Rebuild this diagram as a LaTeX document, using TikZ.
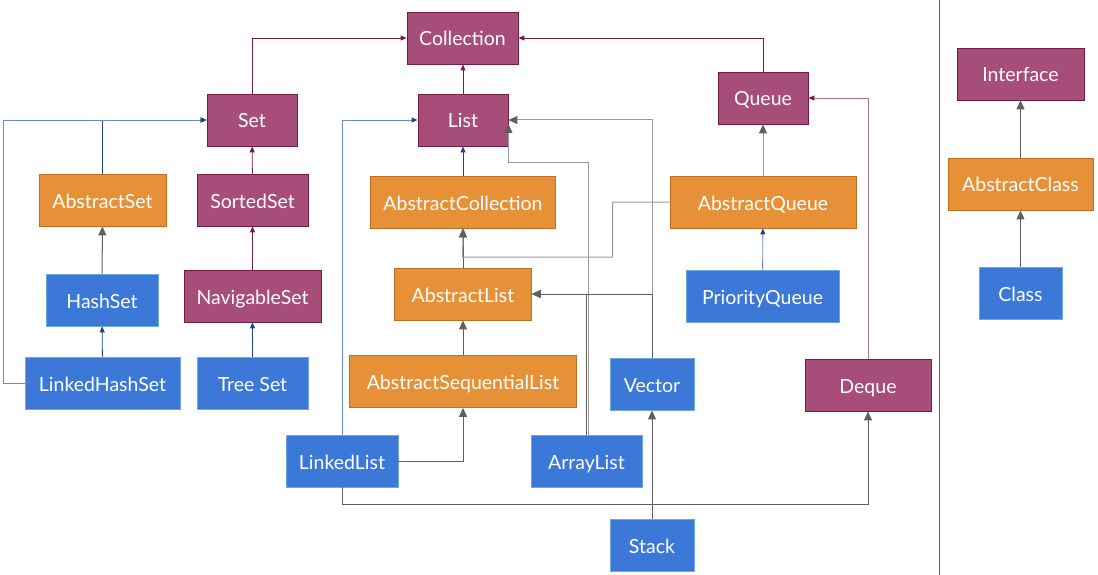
\documentclass[tikz,border=0pt]{standalone}
\usepackage{fontspec}
\setmainfont{Lato}
\usetikzlibrary{arrows.meta}
\definecolor{ifill}{HTML}{A64D79}
\definecolor{iline}{HTML}{741B47}
\definecolor{afill}{HTML}{E69138}
\definecolor{aline}{HTML}{C0701C}
\definecolor{cfill}{HTML}{3C78D8}
\definecolor{cline}{HTML}{6FA8DC}
\definecolor{gline}{HTML}{5F5F5F}
\definecolor{lgline}{HTML}{9A9A9A}
\definecolor{bline}{HTML}{1C4587}
\definecolor{lbline}{HTML}{6A8CC2}
\definecolor{lpline}{HTML}{B5728F}
\begin{document}
\begin{tikzpicture}[x=1pt,y=-1pt,
  box/.style={draw, line width=0.8pt, text=white, font=\fontsize{19.5}{22}\selectfont, inner sep=0pt, minimum height=52pt, text height=18pt, text depth=2pt},
  iface/.style={box, fill=ifill, draw=iline},
  aclass/.style={box, fill=afill, draw=aline},
  cclass/.style={box, fill=cfill, draw=cline},
  garrow/.style={draw=gline, line width=1pt, -{Triangle[length=9pt,width=8pt,color=gline]}},
  lgarrow/.style={garrow, draw=lgline},
  parrow/.style={draw=iline, line width=0.9pt, -{Triangle[length=6pt,width=5pt,color=iline]}},
  lparrow/.style={parrow, draw=lpline},
  barrow/.style={draw=bline, line width=0.9pt, -{Triangle[length=6pt,width=5pt,color=bline]}},
  lbarrow/.style={barrow, draw=lbline}
]
\useasboundingbox (0,0) rectangle (1098,575);
% interfaces
\node[iface, minimum width=111pt] (collection) at (462.5,38) {Collection};
\node[iface, minimum width=90pt] (set) at (252,120) {Set};
\node[iface, minimum width=90pt] (list) at (463,120) {List};
\node[iface, minimum width=90pt] (queue) at (763,98) {Queue};
\node[iface, minimum width=111pt] (sortedset) at (252.5,200) {SortedSet};
\node[iface, minimum width=137pt] (navset) at (252.5,296) {NavigableSet};
\node[iface, minimum width=126pt] (deque) at (868,385) {Deque};
\node[iface, minimum width=127pt] (interface) at (1020.5,74) {Interface};
% abstract classes
\node[aclass, minimum width=127pt] (abstractset) at (102.5,200) {AbstractSet};
\node[aclass, minimum width=185pt] (abscoll) at (463,202) {AbstractCollection};
\node[aclass, minimum width=137pt] (abslist) at (463,294) {AbstractList};
\node[aclass, minimum width=227pt] (asl) at (463,381.5) {AbstractSequentialList};
\node[aclass, minimum width=186pt] (absqueue) at (763,202) {AbstractQueue};
\node[aclass, minimum width=145pt] (absclass) at (1020.5,184) {AbstractClass};
% classes
\node[cclass, minimum width=112pt] (hashset) at (102,300) {HashSet};
\node[cclass, minimum width=155pt] (lhs) at (102.5,383) {LinkedHashSet};
\node[cclass, minimum width=111pt] (treeset) at (252.5,383) {Tree Set};
\node[cclass, minimum width=112pt] (linkedlist) at (342,461) {LinkedList};
\node[cclass, minimum width=111pt] (arraylist) at (586.5,461) {ArrayList};
\node[cclass, minimum width=84pt] (vector) at (652,384) {Vector};
\node[cclass, minimum width=84pt] (stack) at (652,545) {Stack};
\node[cclass, minimum width=153pt] (pq) at (762.5,296) {PriorityQueue};
\node[cclass, minimum width=83pt] (class) at (1020.5,293) {Class};
% divider
\draw[draw=gline, line width=0.9pt] (939,0) -- (939,575);
% connectors
\draw[parrow] (set.north) |- (collection.west);
\draw[parrow] (list.north) -- (list.north |- collection.south);
\draw[parrow] (queue.north) |- (collection.east);
\draw[parrow] (sortedset) -- (set);
\draw[parrow] (navset) -- (sortedset);
\draw[barrow] (treeset) -- (navset);
\draw[barrow] (abstractset.north) |- (set.west);
\draw[lbarrow] (lhs.west) -- ++(-21,0) |- (set.west);
\draw[garrow] (hashset) -- (abstractset);
\draw[barrow] (lhs) -- (hashset);
\draw[barrow] (abscoll) -- (list);
\draw[garrow] (abslist) -- (abscoll);
\draw[lgarrow] (absqueue.west) -- ++(-57,0) |- ++(-150,55) -- (abscoll.south);
\draw[garrow] (asl) -- (abslist);
\draw[garrow] (linkedlist.east) -| (asl.south);
\draw[lbarrow] (linkedlist.north) |- (list.west);
\draw[garrow] (linkedlist.south) -- ++(0,17) -| (deque.south);
\draw[lgarrow] ([xshift=1.5pt]arraylist.north) -- ++(0,-272) -| ([yshift=-4pt]list.east);
\draw[garrow] (arraylist.north) |- (abslist.east);
\draw[lgarrow] (vector.north) |- (list.east);
\draw[garrow] (vector.north) |- (abslist.east);
\draw[garrow] (stack) -- (vector);
\draw[lgarrow] (absqueue) -- (queue);
\draw[lbarrow] (pq) -- (absqueue);
\draw[lparrow] (deque.north) |- (queue.east);
\draw[garrow] (absclass) -- (interface);
\draw[garrow] (class) -- (absclass);
\end{tikzpicture}
\end{document}
